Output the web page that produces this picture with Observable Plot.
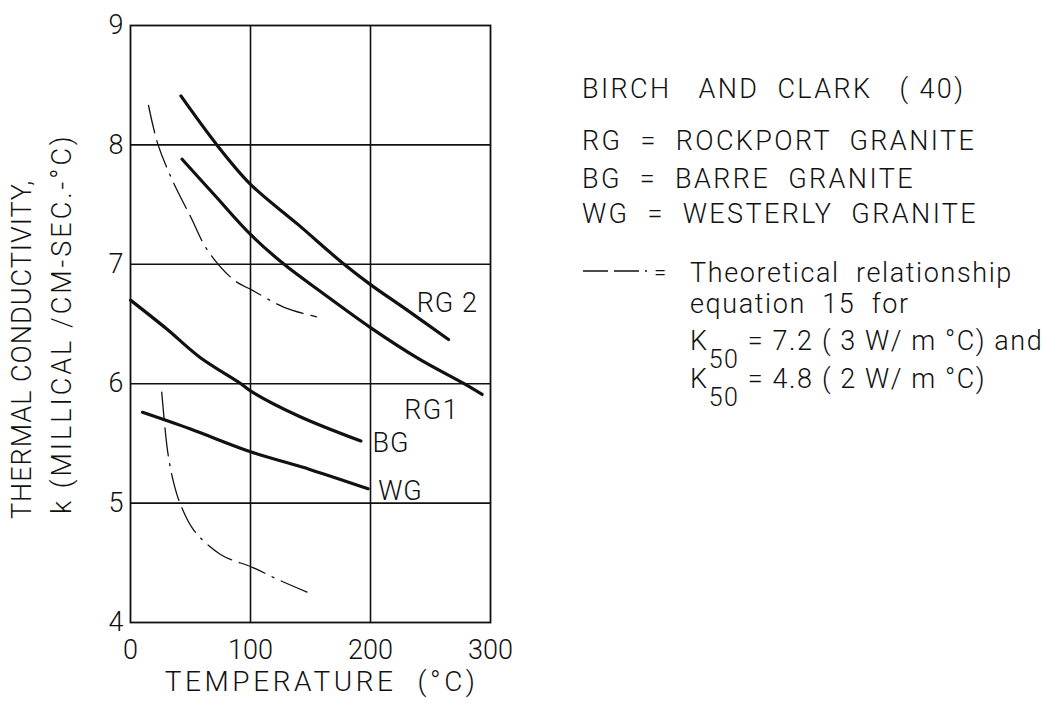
<!DOCTYPE html>
<html>
<head>
<meta charset="utf-8">
<script src="https://cdn.jsdelivr.net/npm/d3@7"></script>
<script src="https://cdn.jsdelivr.net/npm/@observablehq/plot@0.6"></script>
<style>
  body { margin: 0; background: #fff; }
  #chart { position: relative; width: 1042px; height: 706px; }
  #chart svg text { white-space: pre; }
  #notes { position: absolute; left: 0; top: 0; pointer-events: none; }
  #notes text { font-family: Roboto, sans-serif; font-weight: 300; fill: #111; }
</style>
</head>
<body>
<div id="chart"></div>
<script>
// Thermal conductivity k (millical / cm-sec-°C) against temperature (°C)
// Measured curves after Birch and Clark
const rg2 = [[42, 8.41], [72, 8.0], [100, 7.67], [140, 7.33], [178, 7.0], [200, 6.83], [230, 6.62], [265, 6.37]];
const rg1 = [[43, 7.88], [70, 7.58], [100, 7.25], [128, 7.0], [160, 6.76], [200, 6.47], [240, 6.21], [278, 6.0], [293, 5.91]];
const bg  = [[0, 6.70], [30, 6.46], [58, 6.22], [92, 6.0], [100, 5.94], [140, 5.73], [192, 5.52]];
const wg  = [[10, 5.76], [50, 5.62], [100, 5.43], [150, 5.28], [198, 5.12]];

// Theoretical relationship (equation 15) for K50 = 7.2 and K50 = 4.8
const theory72 = [[15, 8.33], [23, 8.0], [36, 7.68], [50, 7.40], [64, 7.12], [86, 6.87], [102, 6.78], [128, 6.64], [155, 6.56]];
const theory48 = [[26, 5.93], [31, 5.43], [36, 5.17], [42, 4.98], [53, 4.77], [75, 4.57], [102, 4.46], [125, 4.35], [153, 4.23]];

// Curve names and where they sit on the chart (temperature, k)
const curveNames = ["RG 2", "RG1", "BG", "WG"];
const nameT = [264, 251, 217, 225];
const nameK = [6.67, 5.78, 5.50, 5.10];

const xTicks = [0, 100, 200, 300];
const yTicks = [4, 5, 6, 7, 8, 9];
const xGrid = [100, 200];
const yGrid = [5, 6, 7, 8];

const xTitle = "TEMPERATURE  (°C)";
const yTitle1 = "THERMAL CONDUCTIVITY,";
const yTitle2 = "k (MILLICAL /CM-SEC.-°C)";

const ink = "#111";
const T = d => d[0], K = d => d[1];
const measured = {x: T, y: K, stroke: ink, strokeWidth: 3.2, curve: "catmull-rom"};
const theoretical = {x: T, y: K, stroke: ink, strokeWidth: 1.3, strokeDasharray: "28,8,28,8,2,8", curve: "catmull-rom"};
const labels = curveNames.map((name, i) => ({name, t: nameT[i], k: nameK[i]}));

const chart = Plot.plot({
  width: 1042,
  height: 706,
  marginLeft: 130,
  marginRight: 552,
  marginTop: 25,
  marginBottom: 84,
  style: {fontFamily: "Roboto, sans-serif", fontSize: "27px", fontWeight: 300, color: ink, background: "#fff"},
  x: {domain: [0, 300]},
  y: {domain: [4, 9]},
  marks: [
    Plot.gridX(xGrid, {stroke: ink, strokeOpacity: 1, strokeWidth: 1.6}),
    Plot.gridY(yGrid, {stroke: ink, strokeOpacity: 1, strokeWidth: 1.6}),
    Plot.frame({stroke: ink, strokeWidth: 1.8}),
    Plot.axisX(xTicks, {tickSize: 0, tickPadding: 17, label: null, fontSize: 27, tickFormat: d => String(d)}),
    Plot.axisY(yTicks, {tickSize: 0, tickPadding: 7, label: null, fontSize: 27, tickFormat: d => String(d)}),
    Plot.line(rg2, measured),
    Plot.line(rg1, measured),
    Plot.line(bg, measured),
    Plot.line(wg, measured),
    Plot.line(theory72, theoretical),
    Plot.line(theory48, theoretical),
    Plot.text(labels, {x: "t", y: "k", text: "name", fontSize: 27, fill: ink}),
    Plot.text([xTitle], {frameAnchor: "bottom", dx: 11, dy: 68, fontSize: 28, fill: ink}),
    Plot.text([yTitle1], {frameAnchor: "left", rotate: -90, textAnchor: "start", dx: -108, dy: 195, fontSize: 27, fill: ink}),
    Plot.text([yTitle2], {frameAnchor: "left", rotate: -90, textAnchor: "start", dx: -68, dy: 190, fontSize: 27, fill: ink})
  ]
});

// wider lettering for the titles, as in drafted engineering lettering
const spacing = new Map([[xTitle, 3.6], [yTitle1, 1], [yTitle2, 3], ["RG 2", 1], ["RG1", 1.5], ["BG", 1], ["WG", 1]]);
d3.select(chart).selectAll("text").each(function () {
  const s = spacing.get(this.textContent);
  if (s != null) this.setAttribute("letter-spacing", s);
});

const host = document.getElementById("chart");
host.appendChild(chart);

// Key and source note to the right of the plot
const keyLines = [
  {text: "BIRCH   AND  CLARK   ( 40)", y: 98},
  {text: "RG  =  ROCKPORT  GRANITE", y: 150},
  {text: "BG  =  BARRE  GRANITE", y: 188},
  {text: "WG  =  WESTERLY  GRANITE", y: 223}
];
const noteLines = [
  {parts: ["Theoretical  relationship"], y: 282},
  {parts: ["equation  15  for"], y: 313},
  {parts: ["K", "50", " = 7.2 ( 3 W/ m °C) and"], y: 350},
  {parts: ["K", "50", " = 4.8 ( 2 W/ m °C)"], y: 388}
];

const ns = "http://www.w3.org/2000/svg";
const notes = document.createElementNS(ns, "svg");
notes.setAttribute("id", "notes");
notes.setAttribute("width", 1042);
notes.setAttribute("height", 706);
for (const line of keyLines) {
  const t = document.createElementNS(ns, "text");
  t.setAttribute("x", 582);
  t.setAttribute("y", line.y);
  t.setAttribute("font-size", 27);
  t.setAttribute("letter-spacing", 2.4);
  t.textContent = line.text;
  notes.appendChild(t);
}
for (const line of noteLines) {
  const t = document.createElementNS(ns, "text");
  t.setAttribute("x", 690);
  t.setAttribute("y", line.y);
  t.setAttribute("font-size", 27);
  t.setAttribute("letter-spacing", 1.6);
  line.parts.forEach((p, i) => {
    const s = document.createElementNS(ns, "tspan");
    s.textContent = p;
    if (line.parts.length > 1 && i === 1) { s.setAttribute("dy", 18); s.setAttribute("font-size", 25); }
    if (line.parts.length > 1 && i === 2) { s.setAttribute("dy", -18); }
    t.appendChild(s);
  });
  notes.appendChild(t);
}
// dash-dot sample and its "=" sign
const sample = document.createElementNS(ns, "line");
sample.setAttribute("x1", 583); sample.setAttribute("x2", 650);
sample.setAttribute("y1", 271); sample.setAttribute("y2", 271);
sample.setAttribute("stroke", ink); sample.setAttribute("stroke-width", 1.4);
sample.setAttribute("stroke-dasharray", "25,6,25,6,2,20");
notes.appendChild(sample);
const eq = document.createElementNS(ns, "text");
eq.setAttribute("x", 654); eq.setAttribute("y", 280);
eq.setAttribute("font-size", 22);
eq.textContent = "=";
notes.appendChild(eq);
host.appendChild(notes);
</script>
</body>
</html>
